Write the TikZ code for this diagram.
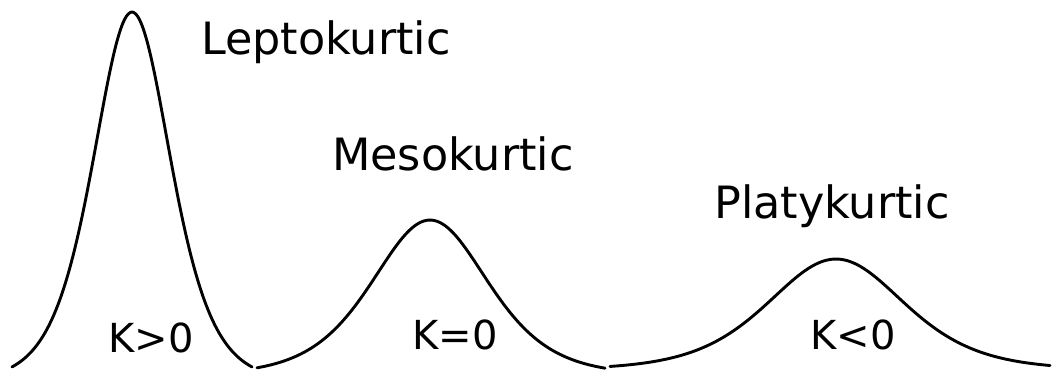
\documentclass[tikz,border=0pt]{standalone}
\usepackage{fontspec}
\setmainfont{DejaVu Sans}
\begin{document}
\begin{tikzpicture}[x=1pt,y=1pt,
  declare function={sq(\u)=1/(cosh(\u)*cosh(\u));
    bell(\x,\c,\s,\U,\ye,\yp)=370-(\ye-(\ye-\yp)*(sq((\x-\c)/\s)-sq(\U))/(1-sq(\U)));},
  curve/.style={line width=2.9pt, line cap=round, line join=round},
  lab/.style={font=\fontsize{44.5}{50}\selectfont, anchor=base west, inner sep=0pt},
  klab/.style={font=\fontsize{40}{46}\selectfont, anchor=base, inner sep=0pt}]
\useasboundingbox (0,0) rectangle (1056,370);
% curves
\draw[curve] plot[domain=12:252, samples=200, smooth] (\x, {bell(\x,132,52,2.31,367,12)});
\draw[curve] plot[domain=257:605, samples=200, smooth] (\x, {bell(\x,430,78,2.231,368,220)});
\draw[curve] plot[domain=610:1050, samples=200, smooth] (\x, {bell(\x,836,92,2.391,366,259)});
% labels
\node[lab] (lepto) at (201,315) {Leptokurtic};
\node[lab] (meso) at (332,200) {Mesokurtic};
\node[lab] (platy) at (714,152) {Platykurtic};
\node[klab] (k1) at (151,18) {K>0};
\node[klab] (k2) at (455,21) {K=0};
\node[klab] (k3) at (853,21) {K<0};
\end{tikzpicture}
\end{document}
